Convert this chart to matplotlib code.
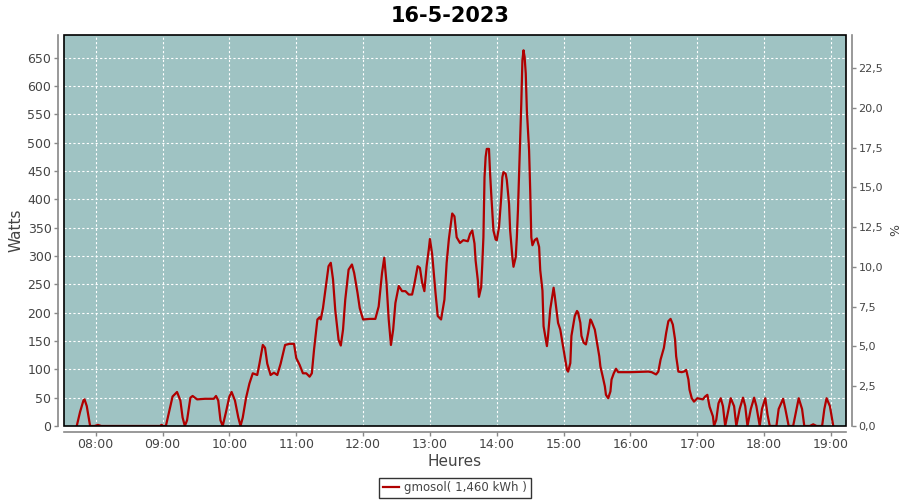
import matplotlib
matplotlib.use('Agg')
import matplotlib.pyplot as plt
from matplotlib.ticker import FuncFormatter

# Readings (time of day, watts)
times = [
    '07:43', '07:46', '07:49', '07:50', '07:52', '07:55', '07:59', '08:02', '08:05', '08:58',
    '08:59', '09:01', '09:03', '09:07', '09:09', '09:13', '09:16', '09:18', '09:20', '09:22',
    '09:25', '09:27', '09:31', '09:38', '09:46', '09:48', '09:50', '09:52', '09:54', '09:57',
    '10:00', '10:02', '10:05', '10:08', '10:10', '10:12', '10:15', '10:18', '10:21', '10:25',
    '10:27', '10:30', '10:32', '10:34', '10:37', '10:40', '10:43', '10:46', '10:50', '10:54',
    '10:58', '11:00', '11:03', '11:06', '11:09', '11:12', '11:14', '11:16', '11:19', '11:21',
    '11:22', '11:24', '11:27', '11:29', '11:31', '11:33', '11:35', '11:38', '11:40', '11:42',
    '11:44', '11:47', '11:50', '11:52', '11:55', '11:57', '12:00', '12:06', '12:11', '12:14',
    '12:17', '12:19', '12:21', '12:23', '12:25', '12:27', '12:29', '12:32', '12:35', '12:38',
    '12:41', '12:44', '12:46', '12:49', '12:51', '12:53', '12:55', '12:57', '12:59', '13:00',
    '13:02', '13:05', '13:07', '13:10', '13:13', '13:15', '13:17', '13:20', '13:22', '13:24',
    '13:27', '13:30', '13:34', '13:36', '13:38', '13:40', '13:41', '13:43', '13:44', '13:46',
    '13:47', '13:48', '13:49', '13:50', '13:51', '13:53', '13:54', '13:55', '13:57', '13:59',
    '14:00', '14:02', '14:04', '14:05', '14:06', '14:08', '14:09', '14:11', '14:12', '14:14',
    '14:15', '14:17', '14:18', '14:19', '14:21', '14:22', '14:23', '14:24', '14:25', '14:26',
    '14:27', '14:29', '14:30', '14:31', '14:32', '14:34', '14:36', '14:38', '14:39', '14:41',
    '14:42', '14:45', '14:46', '14:48', '14:51', '14:52', '14:55', '14:57', '15:00', '15:03',
    '15:04', '15:06', '15:07', '15:10', '15:12', '15:13', '15:15', '15:16', '15:18', '15:20',
    '15:22', '15:24', '15:25', '15:28', '15:30', '15:32', '15:33', '15:35', '15:37', '15:38',
    '15:40', '15:42', '15:43', '15:45', '15:47', '15:49', '16:00', '16:16', '16:19', '16:23',
    '16:25', '16:27', '16:30', '16:32', '16:34', '16:36', '16:38', '16:40', '16:41', '16:43',
    '16:46', '16:48', '16:50', '16:52', '16:53', '16:55', '16:57', '17:00', '17:05', '17:07',
    '17:09', '17:11', '17:14', '17:15', '17:17', '17:19', '17:21', '17:23', '17:25', '17:28',
    '17:30', '17:33', '17:35', '17:38', '17:41', '17:43', '17:45', '17:48', '17:51', '17:53',
    '17:56', '17:58', '18:01', '18:03', '18:05', '18:11', '18:13', '18:17', '18:19', '18:22',
    '18:26', '18:29', '18:31', '18:34', '18:36', '18:41', '18:44', '18:47', '18:52', '18:54',
    '18:56', '18:59', '19:02',
]
watts = [
    0, 25, 45, 47, 35, 0, 0, 2, 0, 0,
    2, 0, 0, 35, 52, 60, 45, 15, 0, 10,
    50, 53, 47, 48, 48, 53, 45, 10, 0, 25,
    52, 60, 45, 15, 0, 15, 50, 75, 93, 90,
    110, 143, 138, 110, 90, 94, 90, 110, 143, 145,
    145, 120, 108, 93, 93, 87, 93, 135, 188, 192,
    188, 208, 253, 282, 288, 259, 205, 152, 142, 170,
    223, 276, 285, 270, 235, 208, 188, 189, 189, 211,
    270, 297, 253, 188, 143, 170, 217, 247, 238, 238,
    232, 232, 250, 282, 279, 253, 238, 282, 312, 330,
    303, 235, 194, 188, 223, 288, 330, 375, 370, 333,
    323, 328, 326, 339, 345, 322, 292, 257, 228, 245,
    286, 333, 439, 475, 489, 489, 445, 410, 345, 329,
    328, 351, 404, 439, 448, 445, 434, 392, 345, 298,
    281, 298, 333, 381, 504, 569, 645, 663, 651, 622,
    557, 486, 416, 333, 319, 328, 331, 316, 275, 239,
    176, 141, 159, 206, 244, 230, 182, 170, 135, 99,
    96, 111, 159, 194, 203, 200, 182, 159, 147, 144,
    164, 188, 185, 170, 147, 123, 105, 88, 70, 55,
    49, 61, 82, 93, 101, 95, 95, 96, 95, 91,
    96, 117, 138, 164, 185, 189, 179, 153, 123, 96,
    95, 96, 99, 82, 64, 49, 43, 49, 47, 52,
    55, 34, 17, 0, 11, 40, 49, 35, 0, 30,
    49, 35, 0, 30, 50, 35, 0, 30, 50, 35,
    0, 30, 49, 20, 0, 0, 30, 48, 30, 0,
    0, 30, 49, 30, 0, 0, 3, 0, 0, 30,
    49, 35, 0,
]

hour_ticks = list(range(8, 20))
watt_ticks = list(range(0, 651, 50))
pct_ticks = [0, 2.5, 5, 7.5, 10, 12.5, 15, 17.5, 20, 22.5]

series_label = 'gmosol( 1,460 kWh )'
title = '16-5-2023'

hours = [int(t[:2]) + int(t[3:]) / 60 for t in times]

bg = '#9fc3c3'
line_col = '#b00000'
axis_col = '#888888'
text_col = '#444444'

fig = plt.figure(figsize=(9, 5), dpi=100)
ax = fig.add_axes([64 / 900, 74 / 500, 782 / 900, 391 / 500])
ax.set_facecolor(bg)

ax.plot(hours, watts, color=line_col, lw=1.6, label=series_label, zorder=3)

ax.set_xlim(7.526, 19.224)
ax.set_ylim(0, 690)
ax.set_xticks(hour_ticks)
ax.set_xticklabels([f'{h:02d}:00' for h in hour_ticks])
ax.set_yticks(watt_ticks)
ax.grid(True, color='white', ls=(0, (2, 2)), lw=0.8)

for side in ['top', 'bottom', 'left', 'right']:
    ax.spines[side].set_visible(False)
ax.add_patch(plt.Rectangle((0, 0), 1, 1, transform=ax.transAxes, fill=False,
                           ec='black', lw=1.2, zorder=5, clip_on=False))

ax.tick_params(axis='both', colors=axis_col, labelcolor=text_col, labelsize=9,
               length=3, width=1, direction='out', pad=2)

# outward axis lines like the original
for side in ['bottom', 'left']:
    ax.spines[side].set_visible(True)
    ax.spines[side].set_position(('outward', 4))
    ax.spines[side].set_color(axis_col)
    ax.spines[side].set_linewidth(1.2)

ax.set_ylabel('Watts', fontsize=11, color=text_col, labelpad=3)
ax.set_xlabel('Heures', fontsize=11, color=text_col, labelpad=2)

# right axis in percent
ax2 = ax.twinx()
ax2.set_ylim(0, 690 / 28.07)
ax2.set_yticks(pct_ticks)
ax2.yaxis.set_major_formatter(FuncFormatter(lambda v, p: f'{v:.1f}'.replace('.', ',')))
for side in ['top', 'bottom', 'left']:
    ax2.spines[side].set_visible(False)
ax2.spines['right'].set_position(('outward', 4))
ax2.spines['right'].set_color(axis_col)
ax2.spines['right'].set_linewidth(1.2)
ax2.tick_params(axis='y', colors=axis_col, labelcolor=text_col, labelsize=8,
                length=3, width=1, direction='out', pad=2)
ax2.set_ylabel('%', fontsize=9, color=text_col, labelpad=4)

fig.suptitle(title, x=0.5, y=0.988, fontsize=15, fontweight='bold', va='top')

leg = ax.legend(loc='center', bbox_to_anchor=(0.5, -(488 - 426) / 391),
                bbox_transform=ax.transAxes, frameon=True, fontsize=8.5,
                handlelength=1.4, handletextpad=0.4, borderpad=0.3,
                fancybox=False)
leg.get_frame().set_edgecolor('black')
leg.get_frame().set_linewidth(1.0)
for t in leg.get_texts():
    t.set_color(text_col)

fig.savefig('out.png', dpi=100)
